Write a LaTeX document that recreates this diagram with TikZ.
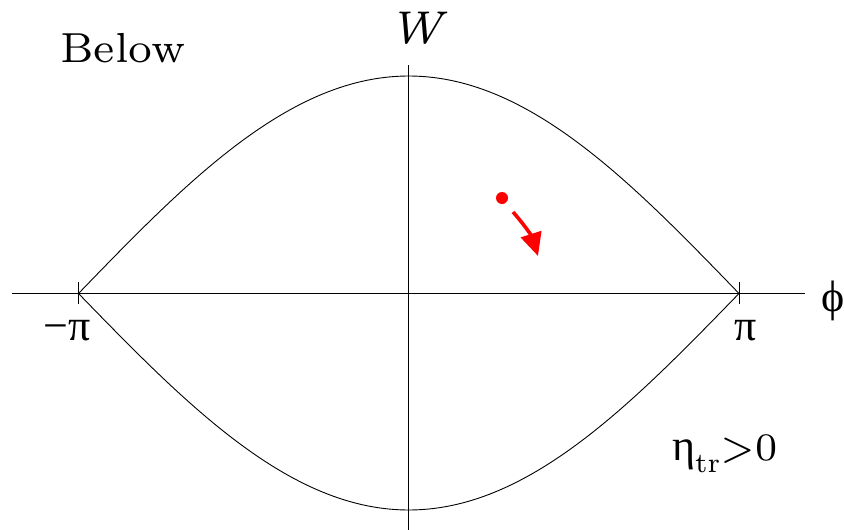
\documentclass[tikz,border=0pt]{standalone}
\usepackage{fontspec}
\setmainfont{Liberation Serif}
\newfontfamily\lmseven{lmroman7}[Extension=.otf, UprightFont=*-regular, ItalicFont=*-italic]
\usetikzlibrary{arrows.meta}
\tikzset{
  thinline/.style={line width=0.9pt, black},
  lbl/.style={inner sep=0pt, font=\fontsize{44}{44}\selectfont},
  redarrow/.style={red, line width=3.6pt, -{Triangle[length=23pt,width=21pt]}},
}
\begin{document}
\begin{tikzpicture}[x=1pt,y=-1pt]
\useasboundingbox (0,0) rectangle (844,530);
\coordinate (xl) at (12,293.5);
\coordinate (xr) at (805,293.5);
\coordinate (yt) at (408.5,65);
\coordinate (yb) at (408.5,530);
\draw[thinline] (xl) -- (xr);
\draw[thinline] (yt) -- (yb);
\coordinate (tl1) at (78.5,282); \coordinate (tl2) at (78.5,304);
\coordinate (tr1) at (739,282); \coordinate (tr2) at (739,304);
\draw[thinline] (tl1) -- (tl2);
\draw[thinline] (tr1) -- (tr2);
\draw[thinline] plot[domain=78.5:739, samples=120] (\x, {293.5 - 217.5*cos((\x-408.75)/330.25*90)});
\draw[thinline] plot[domain=78.5:739, samples=120] (\x, {293.5 + 216.5*cos((\x-408.75)/330.25*90)});
\node[lbl, anchor=base west] (below) at (60,62) {\lmseven\fontsize{42}{42}\selectfont Below};
\node[lbl, anchor=base] (W) at (416,43) {\lmseven\itshape\fontsize{46}{46}\selectfont W};
\node[lbl, anchor=base] (mpi) at (67,340) {−π};
\node[lbl, anchor=base] (ppi) at (746,340) {π};
\node[lbl, anchor=center] (phi) at (833,301) {ϕ};
\node[lbl, anchor=base west] (eta) at (672,460) {η\raisebox{-12pt}{\fontsize{28}{28}\selectfont\lmseven tr}{\lmseven\fontsize{39}{39}\selectfont >0}};
\node[circle, fill=red, inner sep=0pt, minimum size=12pt] (dot) at (502,198) {};
\coordinate (as) at (513,212);
\coordinate (ae) at (538,256);
\draw[redarrow] (as) to[bend left=12] (ae);
\end{tikzpicture}
\end{document}
